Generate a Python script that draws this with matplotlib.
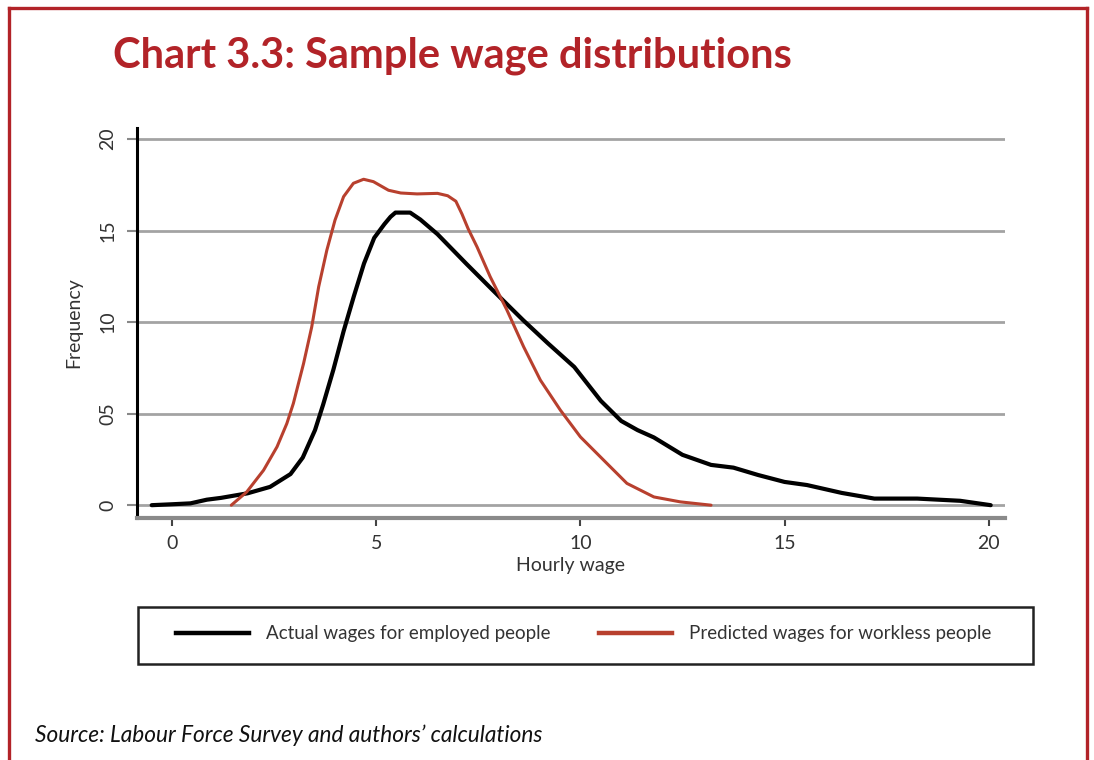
import matplotlib
matplotlib.use("Agg")
import matplotlib.pyplot as plt
from matplotlib.patches import Rectangle
from matplotlib.lines import Line2D

# ---- data ----
actual_x = [-0.5, 0.0, 0.45, 0.85, 1.2, 1.85, 2.4, 2.9, 3.2, 3.5, 3.7, 3.95, 4.2, 4.45,
            4.7, 4.95, 5.2, 5.35, 5.47, 5.83, 6.08, 6.5, 7.2, 7.85, 8.6, 9.2, 9.85, 10.5,
            11.0, 11.4, 11.8, 12.5, 13.2, 13.75, 14.35, 15.0, 15.55, 16.4, 17.2, 18.25,
            19.3, 20.05]
actual_y = [0.0, 0.05, 0.1, 0.3, 0.4, 0.65, 1.0, 1.7, 2.6, 4.1, 5.5, 7.4, 9.5, 11.4,
            13.2, 14.6, 15.35, 15.75, 15.98, 15.98, 15.6, 14.8, 13.2, 11.75, 10.1, 8.85,
            7.55, 5.7, 4.6, 4.1, 3.7, 2.75, 2.2, 2.05, 1.65, 1.27, 1.1, 0.67, 0.36, 0.36,
            0.24, 0.0]

pred_x = [1.45, 1.83, 2.24, 2.57, 2.81, 2.97, 3.22, 3.42, 3.59, 3.79, 3.99, 4.2, 4.44,
          4.69, 4.93, 5.3, 5.6, 6.0, 6.5, 6.75, 6.95, 7.1, 7.25, 7.47, 7.79, 8.2, 8.61,
          9.02, 9.51, 10.0, 10.65, 11.14, 11.8, 12.45, 13.2]
pred_y = [0.0, 0.73, 1.91, 3.19, 4.46, 5.56, 7.74, 9.74, 11.93, 13.93, 15.57, 16.85, 17.58,
          17.8, 17.67, 17.2, 17.05, 17.0, 17.03, 16.9, 16.6, 15.9, 15.1, 14.1, 12.48, 10.66,
          8.65, 6.83, 5.19, 3.73, 2.28, 1.19, 0.45, 0.18, 0.0]

x_ticks = [0, 5, 10, 15, 20]
y_ticks = [0, 5, 10, 15, 20]
y_tick_labels = ["0", "05", "10", "15", "20"]

title = "Chart 3.3: Sample wage distributions"
x_label = "Hourly wage"
y_label = "Frequency"
legend_labels = ["Actual wages for employed people", "Predicted wages for workless people"]
source = "Source: Labour Force Survey and authors\u2019 calculations"

RED = "#B22328"
LINE_RED = "#B8402E"
GRID = "#A3A3A3"
TXT = "#333333"

plt.rcParams['font.family'] = ['Lato', 'DejaVu Sans']

W, H = 1094, 760
fig = plt.figure(figsize=(W / 100, H / 100), dpi=100)
fig.patch.set_facecolor("white")

# red frame (open at the bottom)
fig.add_artist(Line2D([9 / W, 9 / W], [0, 1 - 8 / H], color=RED, lw=2.4, transform=fig.transFigure))
fig.add_artist(Line2D([1087 / W, 1087 / W], [0, 1 - 8 / H], color=RED, lw=2.4, transform=fig.transFigure))
fig.add_artist(Line2D([9 / W, 1087 / W], [1 - 8 / H, 1 - 8 / H], color=RED, lw=2.4, transform=fig.transFigure))

fig.text(113 / W, 1 - 56 / H, title, color=RED, fontsize=30, fontweight="bold",
         ha="left", va="center")

ax = fig.add_axes([137 / W, 1 - 518 / H, (1005 - 137) / W, (518 - 128) / H])
ax.set_xlim(-0.86, 20.4)
ax.set_ylim(-0.7, 20.6)

for v in y_ticks:
    ax.axhline(v, color=GRID, lw=2.0, zorder=1)

ax.plot(actual_x, actual_y, color="black", lw=3.0, solid_joinstyle="round",
        solid_capstyle="round", zorder=3)
ax.plot(pred_x, pred_y, color=LINE_RED, lw=2.2, solid_joinstyle="round",
        solid_capstyle="round", zorder=4)

for s in ["top", "right"]:
    ax.spines[s].set_visible(False)
ax.spines["left"].set_color("black")
ax.spines["left"].set_linewidth(2.2)
ax.spines["bottom"].set_color("#8a8a8a")
ax.spines["bottom"].set_linewidth(3.0)

ax.set_xticks(x_ticks)
ax.set_xticklabels([str(t) for t in x_ticks], fontsize=14, color=TXT)
ax.set_yticks(y_ticks)
ax.set_yticklabels(y_tick_labels, fontsize=14, color=TXT, rotation=90, va="center")
ax.tick_params(axis="x", length=6, width=1.5, color="#444444", pad=6)
ax.tick_params(axis="y", length=7, width=1.5, color="#888888", pad=8)

ax.set_xlabel(x_label, fontsize=14, color=TXT, labelpad=4)
ax.set_ylabel(y_label, fontsize=14, color=TXT, labelpad=12)

# legend box
lx0, lx1, ly0, ly1 = 138, 1033, 607, 664
fig.add_artist(Rectangle((lx0 / W, 1 - ly1 / H), (lx1 - lx0) / W, (ly1 - ly0) / H,
                         transform=fig.transFigure, fill=False, edgecolor="#222222", lw=1.8))
handles = [Line2D([], [], color="black", lw=3.2), Line2D([], [], color=LINE_RED, lw=3.2)]
fig.legend(handles, legend_labels, loc="center left",
           bbox_to_anchor=(159 / W, 1 - 634 / H), ncol=2, frameon=False,
           fontsize=13.5, handlelength=3.9, handletextpad=0.9, columnspacing=2.6,
           labelcolor=TXT)

fig.text(35 / W, 1 - 735 / H, source, fontsize=16.3, style="italic", color="#111111",
         ha="left", va="center")

fig.savefig("out.png", dpi=100, facecolor="white")
